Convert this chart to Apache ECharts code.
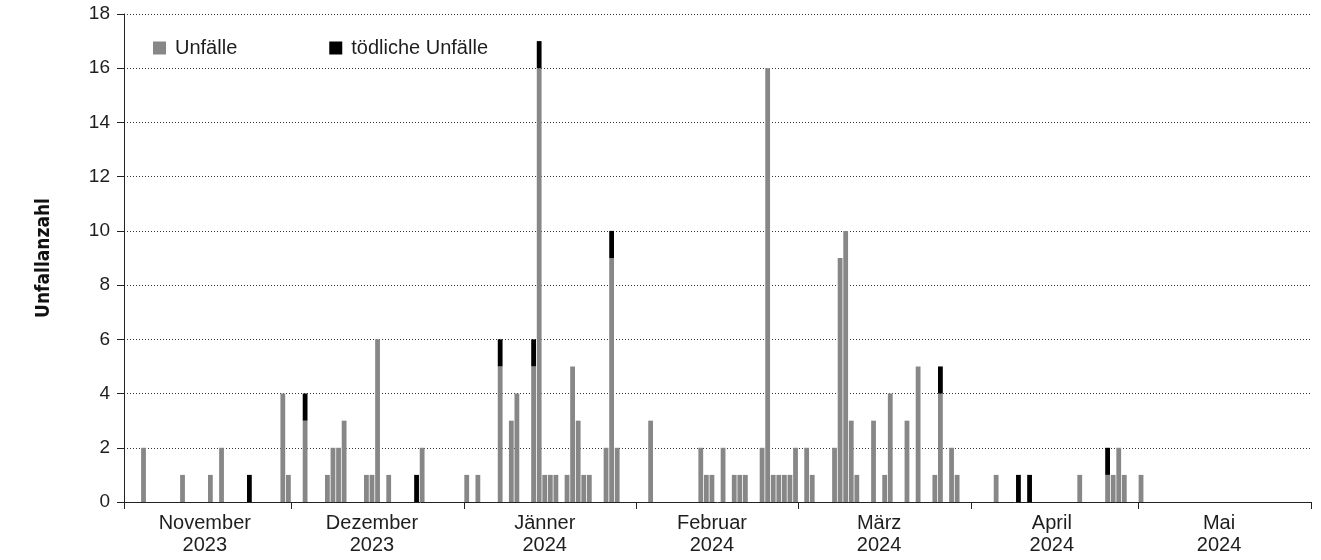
<!DOCTYPE html>
<html>
<head>
<meta charset="utf-8">
<script src="https://cdn.jsdelivr.net/npm/echarts@6/dist/echarts.min.js"></script>
<style>
  html, body { margin: 0; padding: 0; background: #fff; }
  #chart { width: 1321px; height: 560px; }
</style>
</head>
<body>
<div id="chart"></div>
<script>
// ---- Data ----
const startDate = '2023-11-01';
const endDate = '2024-05-31';

const monthLabels = ['November\n2023', 'Dezember\n2023', 'Jänner\n2024', 'Februar\n2024', 'März\n2024', 'April\n2024', 'Mai\n2024'];

const seriesNames = ['Unfälle', 'tödliche Unfälle'];

// days with (non-fatal) accidents: [date, count]
const unfaelle = [
  ['2023-11-04', 2], ['2023-11-11', 1], ['2023-11-16', 1], ['2023-11-18', 2], ['2023-11-29', 4], ['2023-11-30', 1],
  ['2023-12-03', 3], ['2023-12-07', 1], ['2023-12-08', 2], ['2023-12-09', 2], ['2023-12-10', 3], ['2023-12-14', 1],
  ['2023-12-15', 1], ['2023-12-16', 6], ['2023-12-18', 1], ['2023-12-24', 2],
  ['2024-01-01', 1], ['2024-01-03', 1], ['2024-01-07', 5], ['2024-01-09', 3], ['2024-01-10', 4], ['2024-01-13', 5],
  ['2024-01-14', 16], ['2024-01-15', 1], ['2024-01-16', 1], ['2024-01-17', 1], ['2024-01-19', 1], ['2024-01-20', 5],
  ['2024-01-21', 3], ['2024-01-22', 1], ['2024-01-23', 1], ['2024-01-26', 2], ['2024-01-27', 9], ['2024-01-28', 2],
  ['2024-02-03', 3], ['2024-02-12', 2], ['2024-02-13', 1], ['2024-02-14', 1], ['2024-02-16', 2], ['2024-02-18', 1],
  ['2024-02-19', 1], ['2024-02-20', 1], ['2024-02-23', 2], ['2024-02-24', 16], ['2024-02-25', 1], ['2024-02-26', 1],
  ['2024-02-27', 1], ['2024-02-28', 1], ['2024-02-29', 2],
  ['2024-03-02', 2], ['2024-03-03', 1], ['2024-03-07', 2], ['2024-03-08', 9], ['2024-03-09', 10], ['2024-03-10', 3],
  ['2024-03-11', 1], ['2024-03-14', 3], ['2024-03-16', 1], ['2024-03-17', 4], ['2024-03-20', 3], ['2024-03-22', 5],
  ['2024-03-25', 1], ['2024-03-26', 4], ['2024-03-28', 2], ['2024-03-29', 1],
  ['2024-04-05', 1], ['2024-04-20', 1], ['2024-04-25', 1], ['2024-04-26', 1], ['2024-04-27', 2], ['2024-04-28', 1],
  ['2024-05-01', 1]
];

// days with fatal accidents: [date, count]
const toedlich = [
  ['2023-11-23', 1], ['2023-12-03', 1], ['2023-12-23', 1], ['2024-01-07', 1], ['2024-01-13', 1], ['2024-01-14', 1],
  ['2024-01-27', 1], ['2024-03-26', 1], ['2024-04-09', 1], ['2024-04-11', 1], ['2024-04-25', 1]
];

const yTicks = { min: 0, max: 18, interval: 2 };

// ---- Build daily categories ----
function parseUTC(s) { const p = s.split('-').map(Number); return Date.UTC(p[0], p[1] - 1, p[2]); }
function fmt(t) { return new Date(t).toISOString().slice(0, 10); }
const days = [];
for (let t = parseUTC(startDate); t <= parseUTC(endDate); t += 86400000) days.push(fmt(t));

function toDaily(list) {
  const m = {};
  list.forEach(([d, v]) => { m[d] = v; });
  return days.map(d => m[d] !== undefined ? m[d] : 0);
}
const dailyUnfaelle = toDaily(unfaelle);
const dailyToedlich = toDaily(toedlich);

function daysInMonth(d) {
  const y = +d.slice(0, 4), m = +d.slice(5, 7);
  return new Date(Date.UTC(y, m, 0)).getUTCDate();
}
const firstMonth = (() => { const y = +days[0].slice(0, 4), m = +days[0].slice(5, 7); return y * 12 + m; })();
function monthIndex(d) { return (+d.slice(0, 4)) * 12 + (+d.slice(5, 7)) - firstMonth; }

const FONT = "'Liberation Sans', Arial, Helvetica, sans-serif";
const TXT = '#1e1e1e';
const GRAY = '#878787';

const chart = echarts.init(document.getElementById('chart'), null, { renderer: 'canvas' });
chart.setOption({
  animation: false,
  backgroundColor: '#fff',
  grid: { left: 124, right: 10, top: 14, bottom: 58, containLabel: false },
  legend: {
    left: 153, top: 38, padding: 0,
    itemWidth: 13, itemHeight: 13, itemGap: 92,
    icon: 'rect',
    textStyle: { fontFamily: FONT, fontSize: 20, color: TXT, padding: [0, 0, 0, 4] },
    data: seriesNames
  },
  xAxis: {
    type: 'category',
    data: days,
    boundaryGap: true,
    axisLine: { show: true, lineStyle: { color: '#222', width: 1 } },
    axisTick: {
      show: true, length: 7, lineStyle: { color: '#222' },
      interval: (i, v) => v.slice(8, 10) === '01'
    },
    axisLabel: {
      interval: (i, v) => +v.slice(8, 10) === Math.floor(daysInMonth(v) / 2),
      formatter: v => monthLabels[monthIndex(v)],
      fontFamily: FONT, fontSize: 20, color: TXT, lineHeight: 22, margin: 10
    },
    splitLine: { show: false }
  },
  yAxis: {
    type: 'value',
    min: yTicks.min, max: yTicks.max, interval: yTicks.interval,
    name: 'Unfallanzahl',
    nameLocation: 'middle',
    nameRotate: 90,
    nameGap: 70,
    nameTextStyle: { fontFamily: "'Liberation Sans Narrow', 'DejaVu Sans Condensed', Arial, sans-serif", fontWeight: 'bold', fontSize: 19, color: '#111' },
    axisLine: { show: true, lineStyle: { color: '#222', width: 1 } },
    axisTick: { show: true, length: 7, lineStyle: { color: '#222' } },
    axisLabel: { fontFamily: FONT, fontSize: 19, color: TXT, margin: 14 },
    splitLine: { show: true, lineStyle: { color: '#333', width: 1, type: [1, 2] } }
  },
  series: [
    {
      name: seriesNames[0], type: 'bar', stack: 'a',
      data: dailyUnfaelle,
      itemStyle: { color: GRAY },
      barCategoryGap: '14%'
    },
    {
      name: seriesNames[1], type: 'bar', stack: 'a',
      data: dailyToedlich,
      itemStyle: { color: '#000' },
      barCategoryGap: '14%'
    }
  ]
});
</script>
</body>
</html>
